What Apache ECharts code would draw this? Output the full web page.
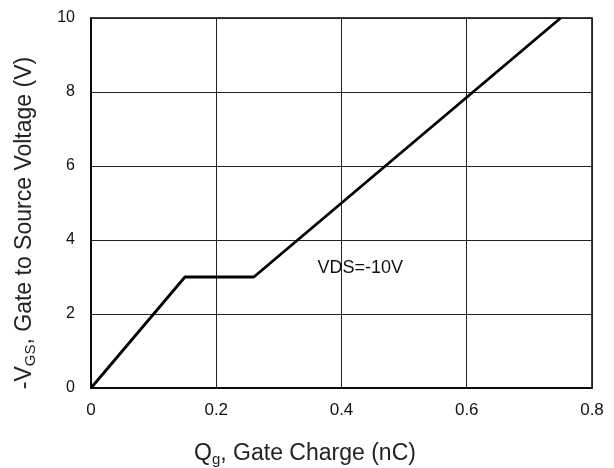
<!DOCTYPE html>
<html><head><meta charset="utf-8">
<script src="https://cdn.jsdelivr.net/npm/echarts@6/dist/echarts.min.js"></script>
<style>html,body{margin:0;padding:0;background:#fff}#c{width:614px;height:468px}</style>
</head><body><div id="c"></div>
<script>
const qg = [0, 0.15, 0.26, 0.75];
const vgs = [0, 3, 3, 10];
const xTicks = [0, 0.2, 0.4, 0.6, 0.8];
const yTicks = [0, 2, 4, 6, 8, 10];
const note = {text: 'VDS=-10V', x: 0.43, y: 3.24};

const chart = echarts.init(document.getElementById('c'), null, {renderer: 'canvas'});
const font = 'Liberation Sans, Arial, sans-serif';
chart.setOption({
  animation: false,
  grid: {left: 91, right: 22, top: 18, bottom: 80, show: true, borderColor: '#000', borderWidth: 1.5,
    containLabel: false, outerBoundsMode: 'none'},
  xAxis: {
    type: 'value', min: 0, max: 0.8, interval: 0.2,
    axisLine: {show: true, lineStyle: {color: '#000', width: 1.5}},
    axisTick: {show: false},
    splitLine: {show: true, lineStyle: {color: '#222', width: 1}},
    axisLabel: {color: '#111', fontSize: 17, fontFamily: font, margin: 14,
      formatter: v => { const t = xTicks.find(k => Math.abs(k - v) < 1e-9); return t === undefined ? '' : String(t); }},
    name: '{n|Q}{s|g}{n|, Gate Charge (nC)}',
    nameLocation: 'middle', nameGap: 52,
    nameTextStyle: {padding: [0, 73, 0, 0], rich: {
      n: {fontSize: 23, fontFamily: font, color: '#222'},
      s: {fontSize: 15, fontFamily: font, color: '#222', padding: [12, 0, 0, 0]}
    }}
  },
  yAxis: {
    type: 'value', min: 0, max: 10, interval: 2,
    axisLine: {show: true, lineStyle: {color: '#000', width: 1.5}},
    axisTick: {show: false},
    splitLine: {show: true, lineStyle: {color: '#222', width: 1}},
    axisLabel: {color: '#111', fontSize: 16, fontFamily: font, margin: 16,
      formatter: v => { const t = yTicks.find(k => Math.abs(k - v) < 1e-9); return t === undefined ? '' : String(t); }},
    name: '{n|-V}{s|GS}{n|, Gate to Source Voltage (V)}',
    nameLocation: 'middle', nameGap: 53, nameRotate: 90,
    nameTextStyle: {padding: [0, 40, 0, 0], rich: {
      n: {fontSize: 23, fontFamily: font, color: '#222'},
      s: {fontSize: 15, fontFamily: font, color: '#222', padding: [12, 0, 0, 0]}
    }}
  },
  series: [{
    type: 'line',
    data: qg.map((q, i) => [q, vgs[i]]),
    symbol: 'none',
    lineStyle: {color: '#000', width: 2.8},
    markPoint: {
      symbol: 'circle', symbolSize: 0,
      data: [{coord: [note.x, note.y], value: note.text}],
      label: {show: true, formatter: note.text, color: '#111', fontSize: 18, fontFamily: font, position: 'inside'}
    }
  }]
});
</script></body></html>
